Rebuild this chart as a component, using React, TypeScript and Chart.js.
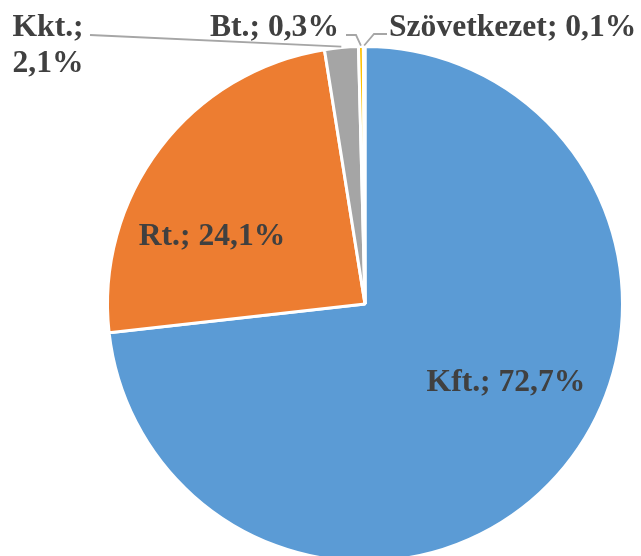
import React, { useEffect, useRef } from 'react';
import { Chart, registerables } from 'chart.js';

Chart.register(...registerables);

const categories = ['Kft.', 'Rt.', 'Kkt.', 'Bt.', 'Szövetkezet'];
const shares = [72.7, 24.1, 2.1, 0.3, 0.1];
const colors = ['#5B9BD5', '#ED7D31', '#A5A5A5', '#FFC000', '#4472C4'];

const fmt = (v: number) => v.toFixed(1).replace('.', ',') + '%';

const labelPlugin = {
  id: 'pieLabels',
  afterDatasetsDraw(chart: any) {
    const ctx = chart.ctx as CanvasRenderingContext2D;
    const arcs = chart.getDatasetMeta(0).data as any[];
    const cx = arcs[0].x;
    const cy = arcs[0].y;
    const r = arcs[0].outerRadius;
    const edge = (i: number) => {
      const a = arcs[i];
      const mid = (a.startAngle + a.endAngle) / 2;
      return [cx + Math.cos(mid) * (r + 1), cy + Math.sin(mid) * (r + 1)];
    };
    ctx.save();
    // leader lines
    ctx.strokeStyle = '#A6A6A6';
    ctx.lineWidth = 1.8;
    ctx.lineJoin = 'miter';
    // Kkt
    let p = edge(2);
    ctx.beginPath();
    ctx.moveTo(p[0], p[1]);
    ctx.lineTo(90, 35);
    ctx.stroke();
    // Bt
    p = edge(3);
    ctx.beginPath();
    ctx.moveTo(p[0], p[1]);
    ctx.lineTo(356, 35);
    ctx.lineTo(346, 35);
    ctx.stroke();
    // Szövetkezet
    p = edge(4);
    ctx.beginPath();
    ctx.moveTo(p[0], p[1]);
    ctx.lineTo(374, 34);
    ctx.lineTo(387, 34);
    ctx.stroke();

    ctx.font = 'bold 31.6px "Liberation Serif"';
    ctx.fillStyle = '#404040';
    ctx.textBaseline = 'alphabetic';
    // inside labels
    ctx.textAlign = 'center';
    ctx.fillText(categories[0] + '; ' + fmt(shares[0]), cx + 141, cy + 87);
    ctx.fillText(categories[1] + '; ' + fmt(shares[1]), cx - 153, cy - 59);
    // outside labels
    ctx.textAlign = 'left';
    ctx.fillText(categories[2] + ';', 12.5, 36);
    ctx.fillText(fmt(shares[2]), 12.5, 72);
    ctx.fillText(categories[3] + '; ' + fmt(shares[3]), 210, 36);
    ctx.fillText(categories[4] + '; ' + fmt(shares[4]), 389, 36);
    ctx.restore();
  },
};

export default function App() {
  const ref = useRef<HTMLCanvasElement | null>(null);
  useEffect(() => {
    if (!ref.current) return;
    const chart = new Chart(ref.current, {
      type: 'pie',
      data: {
        labels: categories,
        datasets: [
          {
            data: shares,
            backgroundColor: colors,
            borderColor: '#FFFFFF',
            borderWidth: 3,
          },
        ],
      },
      options: {
        animation: false,
        responsive: false,
        devicePixelRatio: 1,
        layout: { padding: { left: 106, right: 17, top: 45, bottom: 45 } },
        plugins: {
          legend: { display: false },
          tooltip: { enabled: false },
        },
      },
      plugins: [labelPlugin],
    });
    return () => chart.destroy();
  }, []);
  return (
    <div style={{ position: 'fixed', left: 0, top: 0, width: 641, height: 608 }}>
      <canvas ref={ref} width={641} height={608} style={{ width: 641, height: 608, display: 'block' }} />
    </div>
  );
}
